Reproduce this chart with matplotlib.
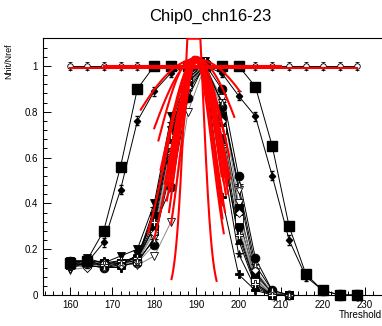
import numpy as np
import matplotlib
matplotlib.use('Agg')
import matplotlib.pyplot as plt
from matplotlib.ticker import MultipleLocator

plt.rcParams['font.family'] = ['Liberation Sans', 'DejaVu Sans']

threshold = [160, 164, 168, 172, 176, 180, 184, 188, 192, 196,
             200, 204, 208, 212, 216, 220, 224, 228]

# reference channel, flat at 1
ref_flat = [1.0] * 18
ref_flat2 = [0.995] * 18

# two channels with a wide window
wide_sq = [0.14, 0.15, 0.28, 0.56, 0.90, 1.00, 1.00, 1.00, 1.00, 1.00,
           1.00, 0.91, 0.65, 0.30, 0.09, 0.02, 0.00, 0.00]
wide_dia = [0.13, 0.14, 0.23, 0.46, 0.76, 0.89, 0.97, 1.00, 1.00, 0.97,
            0.87, 0.78, 0.52, 0.24, 0.08, 0.02, 0.00, 0.00]

# main group of scans (160 .. 212)
scan_a = [0.15, 0.14, 0.13, 0.14, 0.15, 0.30, 0.47, 0.86, 1.01, 0.90, 0.52, 0.16, 0.02, 0.00]
scan_b = [0.13, 0.13, 0.12, 0.13, 0.14, 0.22, 0.58, 0.92, 1.00, 0.82, 0.30, 0.06, 0.00, 0.00]
scan_c = [0.12, 0.16, 0.14, 0.17, 0.20, 0.40, 0.78, 0.97, 1.02, 0.74, 0.34, 0.07, 0.00, 0.00]
scan_d = [0.14, 0.15, 0.12, 0.12, 0.18, 0.33, 0.72, 0.95, 1.00, 0.70, 0.28, 0.05, 0.00, 0.00]
scan_e = [0.11, 0.12, 0.13, 0.14, 0.13, 0.17, 0.32, 0.80, 1.00, 0.86, 0.40, 0.08, 0.01, 0.00]
scan_f = [0.12, 0.13, 0.12, 0.13, 0.14, 0.25, 0.60, 0.90, 1.01, 0.84, 0.46, 0.10, 0.01, 0.00]
scan_g = [0.13, 0.14, 0.15, 0.12, 0.15, 0.36, 0.70, 0.93, 1.00, 0.43, 0.09, 0.02, 0.00, 0.00]
scan_h = [0.14, 0.13, 0.14, 0.15, 0.16, 0.38, 0.75, 0.96, 1.02, 0.62, 0.18, 0.03, 0.00, 0.00]
scan_i = [0.13, 0.14, 0.13, 0.14, 0.15, 0.28, 0.66, 0.94, 1.00, 0.72, 0.33, 0.07, 0.00, 0.00]
scan_j = [0.15, 0.15, 0.14, 0.14, 0.16, 0.30, 0.68, 0.93, 1.00, 0.78, 0.38, 0.09, 0.01, 0.00]
scan_k = [0.14, 0.15, 0.13, 0.14, 0.17, 0.35, 0.72, 0.96, 1.01, 0.68, 0.24, 0.04, 0.00, 0.00]
scan_l = [0.13, 0.12, 0.14, 0.13, 0.15, 0.27, 0.62, 0.91, 1.00, 0.76, 0.36, 0.11, 0.01, 0.00]
scan_m = [0.12, 0.14, 0.13, 0.15, 0.16, 0.32, 0.70, 0.94, 1.02, 0.65, 0.26, 0.05, 0.00, 0.00]
scan_n = [0.14, 0.13, 0.12, 0.14, 0.15, 0.24, 0.55, 0.89, 1.00, 0.84, 0.48, 0.13, 0.02, 0.00]

# gaussian fits: amplitude, mean, sigma, range
fit_amp = [1.45, 1.03, 1.03, 1.02, 1.03, 1.04, 1.02, 1.03, 1.03, 1.02,
           1.04, 1.03, 1.02, 1.03, 1.03, 1.03, 1.02, 1.04, 1.03]
fit_mean = [189.4, 190.0, 189.0, 189.7, 190.2, 189.5, 190.4, 189.8, 190.1, 189.6,
            190.0, 189.9, 190.3, 189.7, 190.0, 189.8, 190.1, 189.6, 190.2]
fit_sigma = [2.15, 19.0, 8.7, 5.8, 5.2, 4.8, 5.5, 4.6, 6.2, 5.0,
             7.5, 5.4, 4.9, 6.8, 12.0, 6.9, 6.0, 4.2, 4.0]
fit_lo = [184.1, 176.8, 181.0, 183.0, 183.5, 184.0, 183.0, 184.5, 182.5, 183.8,
          181.5, 183.2, 184.2, 182.0, 180.0, 178.5, 180.0, 183.5, 184.0]
fit_hi = [194.8, 200.3, 197.0, 196.5, 197.0, 196.0, 197.5, 196.2, 197.5, 196.8,
          197.8, 196.4, 196.0, 197.2, 199.0, 198.0, 197.5, 196.5, 196.2]

# constant fits on the reference channel
flat_level = [0.99, 1.0]
flat_lo = [160, 168]
flat_hi = [228, 210]

YMAX = 1.122

fig = plt.figure(figsize=(3.82, 3.26), dpi=100)
ax = fig.add_axes([43 / 382, 31 / 326, 343 / 382, 257 / 326])

scans = [scan_a, scan_b, scan_c, scan_d, scan_e, scan_f, scan_g,
         scan_h, scan_i, scan_j, scan_k, scan_l, scan_m, scan_n]
styles = [('o', True), ('o', True), ('v', True), ('v', True), ('v', False),
          ('v', False), ('P', True), ('*', True), ('s', False), ('s', True),
          ('^', True), ('D', False), ('P', False), ('*', False)]
gray_lines = {1, 4, 8, 11}

x_short = threshold[:14]
for i, (vals, (m, filled)) in enumerate(zip(scans, styles)):
    ms = 6.3 if m in ('o', 's') else 5.8
    if m == 'D':
        ms = 4.2
    lc = '#8a8a8a' if i in gray_lines else 'black'
    ax.plot(x_short, vals, color=lc, lw=0.7, zorder=2)
    ax.plot(x_short, vals, ls='none', marker=m, ms=ms,
            mfc='black' if filled else 'white', mec='black', mew=0.6,
            clip_on=False, zorder=3)

# reference channel with error bars
ax.errorbar(threshold, ref_flat2, yerr=0.015, fmt='v', ms=3.5, mfc='white',
            mec='black', mew=0.5, ecolor='black', elinewidth=0.6, capsize=0,
            color='black', zorder=3)
ax.errorbar(threshold, ref_flat, yerr=0.018, fmt='o', ms=4.0, mfc='white',
            mec='black', mew=0.6, ecolor='black', elinewidth=0.6, capsize=1.2,
            color='black', lw=0.7, ls='-', zorder=3)

# wide-window channels
ax.plot(threshold, wide_dia, color='black', lw=0.7, zorder=2)
ax.errorbar(threshold, wide_dia, yerr=0.02, fmt='D', ms=3.2, mfc='black',
            mec='black', ecolor='black', elinewidth=0.6, capsize=1.2,
            clip_on=False, zorder=3)
ax.plot(threshold, wide_sq, color='black', lw=0.7, marker='s', ms=6.5,
        mfc='black', mec='black', clip_on=False, zorder=4)

# fit curves
for a, mu, sg, lo, hi in zip(fit_amp, fit_mean, fit_sigma, fit_lo, fit_hi):
    xf = np.linspace(lo, hi, 200)
    yf = a * np.exp(-0.5 * ((xf - mu) / sg) ** 2)
    ax.plot(xf, np.minimum(yf, YMAX - 0.003), color='red', lw=1.5, zorder=5)
for lev, lo, hi in zip(flat_level, flat_lo, flat_hi):
    ax.plot([lo, hi], [lev, lev], color='red', lw=1.5, zorder=5)

ax.set_xlim(153.6, 235.0)
ax.set_ylim(0, YMAX)
ax.xaxis.set_major_locator(MultipleLocator(10))
ax.xaxis.set_minor_locator(MultipleLocator(2))
ax.yaxis.set_major_locator(MultipleLocator(0.2))
ax.yaxis.set_minor_locator(MultipleLocator(0.04))
ax.yaxis.set_major_formatter(plt.FuncFormatter(lambda v, p: '%g' % round(v, 2)))
ax.tick_params(which='both', direction='in', top=False, right=False,
               labelsize=7, width=0.7)
ax.tick_params(which='major', length=5.5, pad=3.5)
ax.tick_params(which='minor', length=2.8)
for s in ax.spines.values():
    s.set_linewidth(0.8)

fig.text(210 / 382, 1 - 16 / 326, 'Chip0_chn16-23', ha='center', va='center',
         fontsize=12)
fig.text(9 / 382, 1 - 43 / 326, 'Nhit/Nref', rotation=90, ha='center',
         va='top', fontsize=6.5)
fig.text(381.5 / 382, 1 - 315 / 326, 'Threshold', ha='right', va='center',
         fontsize=7)

fig.savefig('out.png', dpi=100)
